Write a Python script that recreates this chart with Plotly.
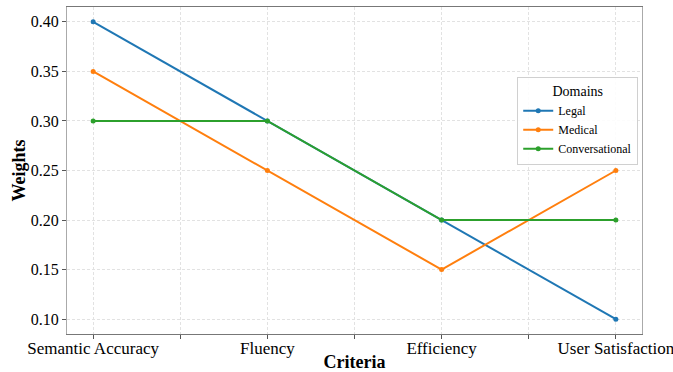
import plotly.graph_objects as go

criteria = ["Semantic Accuracy", "Fluency", "Efficiency", "User Satisfaction"]
legal = [0.40, 0.30, 0.20, 0.10]
medical = [0.35, 0.25, 0.15, 0.25]
conversational = [0.30, 0.30, 0.20, 0.20]
series_names = ["Legal", "Medical", "Conversational"]
colors = ["#1f77b4", "#ff7f0e", "#2ca02c"]
y_ticks = [0.10, 0.15, 0.20, 0.25, 0.30, 0.35, 0.40]

xpos = list(range(len(criteria)))
font = "Liberation Serif, Times New Roman, serif"

fig = go.Figure()
for name, vals, c in zip(series_names, [legal, medical, conversational], colors):
    fig.add_trace(go.Scatter(
        x=xpos, y=vals, name=name, mode="lines+markers",
        line=dict(color=c, width=2), marker=dict(color=c, size=5),
    ))

grid = dict(showgrid=True, gridcolor="#e2e2e2", griddash="3px,2px", gridwidth=0.8)

fig.update_layout(
    width=673, height=372,
    margin=dict(l=67, r=31, t=7, b=38),
    paper_bgcolor="white", plot_bgcolor="white",
    font=dict(family=font, color="black"),
    showlegend=True,
    legend=dict(
        x=0.783, y=0.786, xanchor="left", yanchor="top",
        bgcolor="rgba(255,255,255,0.9)", bordercolor="#d0d0d0", borderwidth=1,
        font=dict(family=font, size=12),
        title=dict(text="Domains", side="top center", font=dict(family=font, size=14)),
        tracegroupgap=0, itemwidth=30,
    ),
    xaxis=dict(
        range=[-0.15, 3.15], tickmode="array", tickvals=xpos, ticktext=criteria,
        ticks="outside", ticklen=4, tickcolor="#555", tickfont=dict(size=17),
        ticklabeloverflow="allow", ticklabelstandoff=-5,
        showline=True, linecolor="#777", linewidth=1, mirror=True,
        zeroline=False, automargin=False,
        title=dict(text="<b>Criteria</b>", font=dict(size=18), standoff=2),
        minor=dict(tick0=0.5, dtick=1, ticks="outside", ticklen=4, tickcolor="#555",
                   showgrid=True, gridcolor="#e2e2e2", griddash="3px,2px", gridwidth=0.8),
        **grid,
    ),
    yaxis=dict(
        range=[0.085, 0.415], tickmode="array", tickvals=y_ticks,
        ticktext=[f"{v:.2f}" for v in y_ticks],
        ticks="outside", ticklen=4, tickcolor="#555", tickfont=dict(size=16),
        showline=True, linecolor="#aaa", linewidth=1, mirror=True,
        zeroline=False, automargin=False,
        title=dict(text="<b>Weights</b>", font=dict(size=18), standoff=0),
        **grid,
    ),
)

fig.write_html(
    "out.html",
    config={"displayModeBar": False},
    post_script="document.body.style.margin='0';document.body.style.padding='0';",
)
